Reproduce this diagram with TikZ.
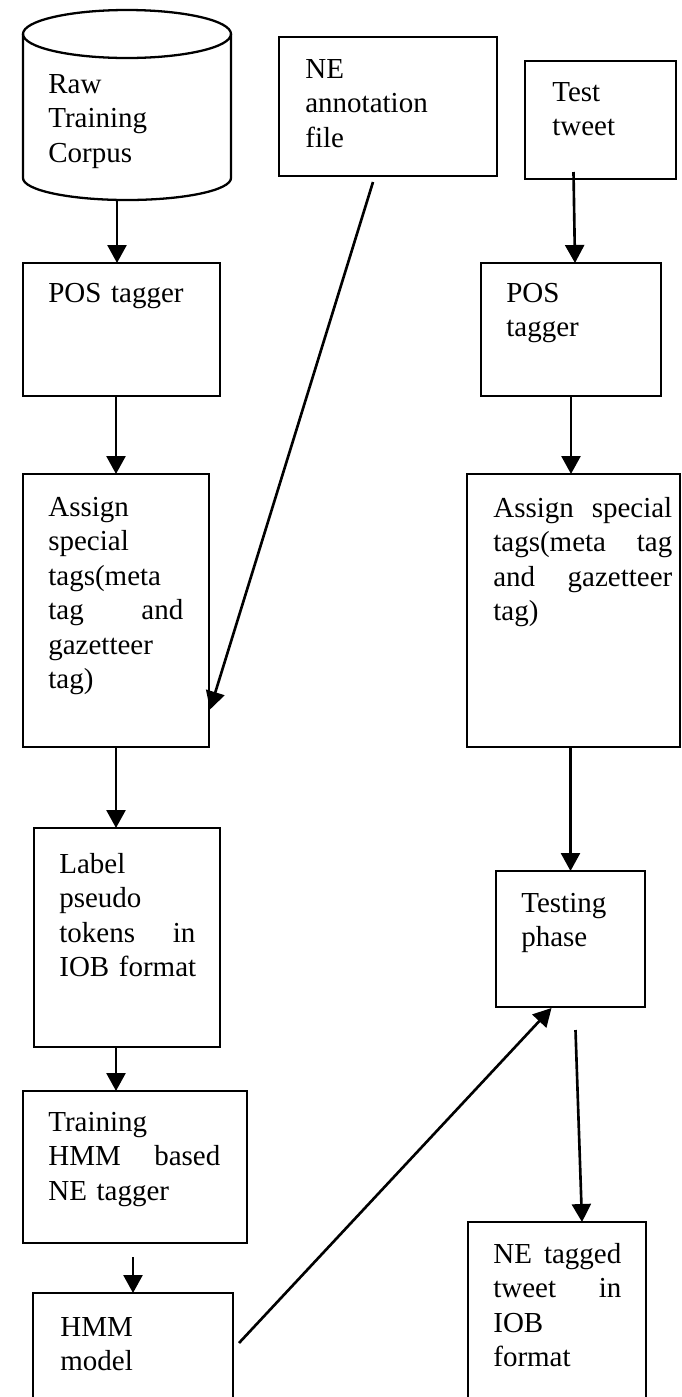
\documentclass[tikz,border=0pt]{standalone}
\usepackage{fontspec}
\setmainfont{Liberation Serif}
\usetikzlibrary{arrows.meta,fit}
\newcommand{\gapfill}{\hskip 0pt plus 1filll\relax}

\begin{document}
\begin{tikzpicture}[x=0.02cm, y=-0.02cm,
    box/.style={draw, line width=1.3pt, inner sep=0pt, outer sep=0pt},
    txt/.style={anchor=north west, inner sep=0pt, align=left, text width=#1,
                font=\fontsize{16.5}{19.6}\selectfont},
    txt/.default=3.5cm,
    flow/.style={line width=1.5pt, -{Triangle[length=0.36cm,width=0.38cm]}}]

    \clip (0,0) rectangle (681,1397);

    % Nodes
    \node (corpus) [inner sep=0pt, outer sep=0pt, fit={(23,10) (231,200)}] {};
    \draw[line width=1.3pt] (127,34) ellipse [x radius=104, y radius=24];
    \draw[line width=1.3pt] (23,34) -- (23,178)
          arc[start angle=180, end angle=0, x radius=104, y radius=22] -- (231,34);
    \node (ne) [box, fit={(279,37) (497,176)}] {};
    \node (test) [box, fit={(525,61) (676,179)}] {};
    \node (pos1) [box, fit={(23,263) (220,396)}] {};
    \node (pos2) [box, fit={(481,263) (661,396)}] {};
    \node (assign1) [box, fit={(23,474) (209,747)}] {};
    \node (assign2) [box, fit={(467,474) (680,747)}] {};
    \node (labelbox) [box, fit={(34,828) (220,1047)}] {};
    \node (testing) [box, fit={(496,871) (645,1007)}] {};
    \node (train) [box, fit={(23,1091) (247,1243)}] {};
    \node (hmm) [box, fit={(33,1293) (233,1420)}] {};
    \node (nettag) [box, fit={(468,1222) (646,1420)}] {};

    % Texts
    \node (corpust) [txt] at ([shift={(-79,-31)}]corpus.center) {Raw\\Training\\Corpus};
    \node (net) [txt] at ([shift={(26,22)}]ne.north west) {NE\\annotation\\file};
    \node (testt) [txt] at ([shift={(27,21)}]test.north west) {Test\\tweet};
    \node (pos1t) [txt] at ([shift={(25,20)}]pos1.north west) {POS tagger};
    \node (pos2t) [txt] at ([shift={(25,20)}]pos2.north west) {POS\\tagger};
    \node (assign1t) [txt=2.7cm] at ([shift={(25,23)}]assign1.north west)
          {Assign\\special\\tags(meta\\tag\gapfill and\\gazetteer\\tag)};
    \node (assign2t) [txt=3.58cm] at ([shift={(26,23)}]assign2.north west)
          {Assign\gapfill special\\tags(meta\gapfill tag\\and\gapfill gazetteer\\tag)};
    \node (labelboxt) [txt=2.72cm] at ([shift={(25,25)}]labelbox.north west)
          {Label\\pseudo\\tokens\gapfill in\\\mbox{IOB format}};
    \node (testingt) [txt] at ([shift={(25,22)}]testing.north west) {Testing\\phase};
    \node (traint) [txt=3.44cm] at ([shift={(25,21)}]train.north west)
          {Training\\HMM\gapfill based\\NE tagger};
    \node (hmmt) [txt] at ([shift={(27,24)}]hmm.north west) {HMM\\model};
    \node (nettagt) [txt=2.56cm] at ([shift={(25,21)}]nettag.north west)
          {NE\gapfill tagged\\tweet\gapfill in\\IOB\\format};

    % Arrows
    \draw[flow] ([shift={(-10,0)}]corpus.south) -- ([shift={(-4.5,0)}]pos1.north);
    \draw[flow] (assign1.north |- pos1.south) -- (assign1.north);
    \draw[flow] (assign1.south) -- (assign1.south |- labelbox.north);
    \draw[flow] ([shift={(-11,0)}]labelbox.south) -- ([shift={(-11,0)}]labelbox.south |- train.north);
    \draw[flow] ([shift={(0,14)}]hmm.north |- train.south) -- (hmm.north);
    \draw[flow] ([shift={(-15,6)}]ne.south) -- ([shift={(1,99)}]assign1.east);
    \draw[flow] ([shift={(-27,-7)}]test.south) -- ([shift={(4,0)}]pos2.north);
    \draw[flow] (pos2.south) -- (pos2.south |- assign2.north);
    \draw[flow] (testing.north |- assign2.south) -- (testing.north);
    \draw[flow] ([shift={(6,50)}]hmm.north east) -- ([shift={(-19,1)}]testing.south);
    \draw[flow] ([shift={(5,23)}]testing.south) -- ([shift={(25,0)}]nettag.north);

\end{tikzpicture}
\end{document}
